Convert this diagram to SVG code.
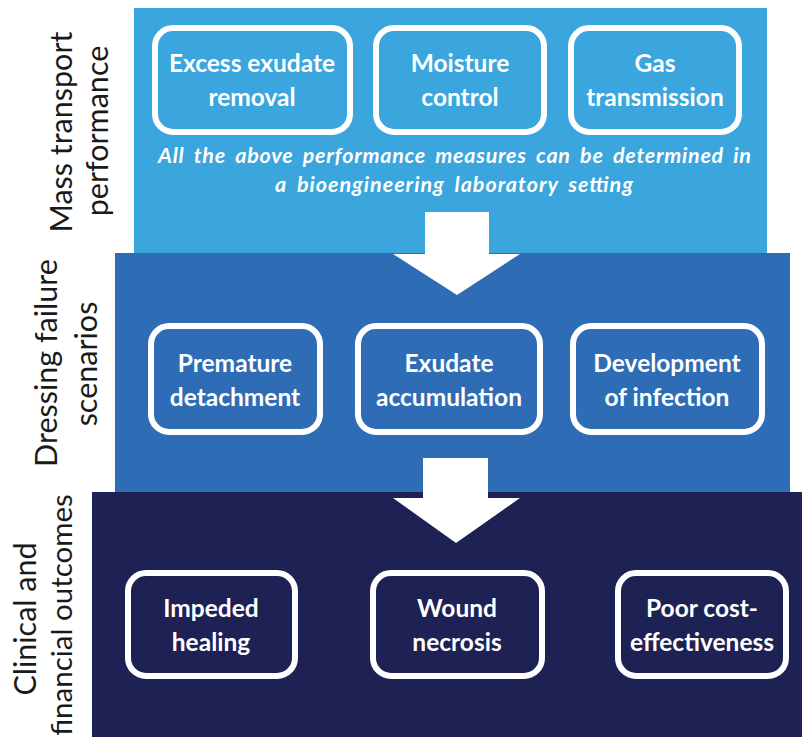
<svg xmlns="http://www.w3.org/2000/svg" width="802" height="740" viewBox="0 0 802 740">
  <style>
    .box { fill: none; stroke: #ffffff; stroke-width: 6; }
    .lbl { font-family: Lato, "Open Sans", sans-serif; font-weight: bold; font-size: 24.5px; fill: #ffffff; text-anchor: middle; }
    .side { font-family: Lato, "Open Sans", sans-serif; font-size: 30.5px; fill: #1a1a1a; text-anchor: middle; }
    .note { font-family: Lato, "Open Sans", sans-serif; font-weight: bold; font-style: italic; font-size: 21.5px; fill: #ffffff; word-spacing: 4px; }
    .arrow { fill: #ffffff; }
  </style>

  <rect width="802" height="740" fill="#ffffff"/>

  <!-- tier panels -->
  <rect x="134" y="8" width="633" height="246" fill="#3ba5dd"/>
  <rect x="115" y="253" width="675" height="240" fill="#2e6db6"/>
  <rect x="92" y="492" width="710" height="245" fill="#1d2154"/>

  <!-- side labels -->
  <g id="label-mass">
    <text class="side" transform="translate(72,132) rotate(-90)">Mass transport</text>
    <text class="side" transform="translate(108,131) rotate(-90)">performance</text>
  </g>
  <g id="label-failure">
    <text class="side" transform="translate(57,363) rotate(-90)">Dressing failure</text>
    <text class="side" transform="translate(97,364) rotate(-90)">scenarios</text>
  </g>
  <g id="label-outcomes">
    <text class="side" transform="translate(36,619) rotate(-90)">Clinical and</text>
    <text class="side" style="font-size:29.5px" transform="translate(72,615) rotate(-90)">financial outcomes</text>
  </g>

  <!-- connectors -->
  <g id="connectors">
    <polygon class="arrow" points="425,212 489,212 489,254 520,254 457,295 393,254 425,254"/>
    <polygon class="arrow" points="423,458 488,458 488,498 520,498 456,543 393,498 423,498"/>
  </g>

  <!-- mass transport tier -->
  <g id="excess-exudate">
    <rect class="box" x="155" y="28" width="195" height="104" rx="18"/>
    <text class="lbl" x="252" y="72">Excess exudate</text>
    <text class="lbl" x="252" y="106">removal</text>
  </g>
  <g id="moisture-control">
    <rect class="box" x="376" y="28" width="168" height="104" rx="18"/>
    <text class="lbl" x="460" y="72">Moisture</text>
    <text class="lbl" x="460" y="106">control</text>
  </g>
  <g id="gas-transmission">
    <rect class="box" x="571" y="28" width="168" height="104" rx="18"/>
    <text class="lbl" x="655" y="72">Gas</text>
    <text class="lbl" x="655" y="106">transmission</text>
  </g>
  <g id="lab-note">
    <text class="note" x="158" y="163" textLength="593" lengthAdjust="spacing">All the above performance measures can be determined in</text>
    <text class="note" x="275" y="192" textLength="358" lengthAdjust="spacing">a bioengineering laboratory setting</text>
  </g>

  <!-- dressing failure tier -->
  <g id="premature-detachment">
    <rect class="box" x="151" y="326" width="169" height="106" rx="18"/>
    <text class="lbl" x="235" y="372">Premature</text>
    <text class="lbl" x="235" y="406">detachment</text>
  </g>
  <g id="exudate-accumulation">
    <rect class="box" x="358" y="326" width="182" height="106" rx="18"/>
    <text class="lbl" x="449" y="372">Exudate</text>
    <text class="lbl" x="449" y="406">accumulation</text>
  </g>
  <g id="infection">
    <rect class="box" x="573" y="326" width="189" height="106" rx="18"/>
    <text class="lbl" x="667" y="372">Development</text>
    <text class="lbl" x="667" y="406">of infection</text>
  </g>

  <!-- outcomes tier -->
  <g id="impeded-healing">
    <rect class="box" x="128" y="573" width="167" height="103" rx="18"/>
    <text class="lbl" x="211" y="617">Impeded</text>
    <text class="lbl" x="211" y="651">healing</text>
  </g>
  <g id="wound-necrosis">
    <rect class="box" x="373" y="573" width="169" height="103" rx="18"/>
    <text class="lbl" x="457" y="617">Wound</text>
    <text class="lbl" x="457" y="651">necrosis</text>
  </g>
  <g id="cost-effectiveness">
    <rect class="box" x="618" y="573" width="168" height="103" rx="18"/>
    <text class="lbl" x="702" y="617">Poor cost-</text>
    <text class="lbl" x="702" y="651">effectiveness</text>
  </g>
</svg>
